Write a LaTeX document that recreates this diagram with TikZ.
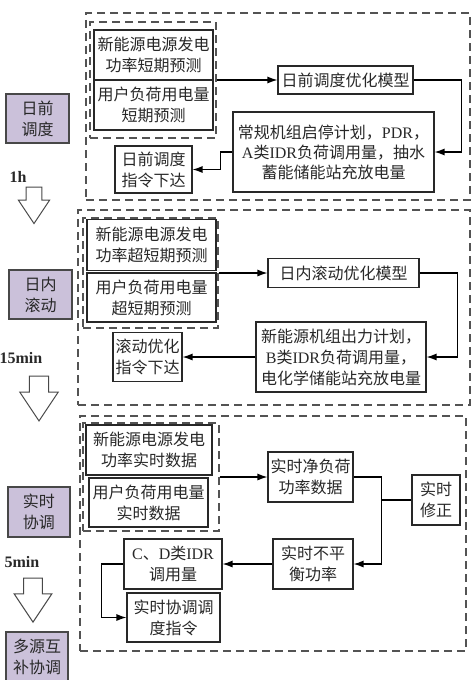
\documentclass[tikz,border=0pt]{standalone}
\usepackage{fontspec}
\setmainfont{Noto Sans CJK SC}
\newfontfamily\lat{Liberation Serif}
\usepackage{tikz}
\usetikzlibrary{arrows.meta,positioning,calc}
\definecolor{stage}{RGB}{203,193,218}
\definecolor{ink}{RGB}{40,40,40}

\begin{document}
\begin{tikzpicture}[x=1pt,y=-1pt,% pixel grid, y runs downwards
	every node/.style={
		align=center,		% so that "\\" breaks the line
		inner sep=2pt,
		text=ink,
		font=\fontsize{16}{21}\selectfont
		},
	box/.style={rectangle,draw=ink,line width=1.1pt,fill=white},
	stagebox/.style={rectangle,draw=ink!85,line width=1.4pt,fill=stage,minimum width=63pt,minimum height=49pt},
	frame/.style={rectangle,draw=ink!80,line width=1.3pt,dash pattern=on 8pt off 5pt,inner sep=0pt},
	line/.style={draw=black,line width=1.2pt},
	>={Latex[length=10pt,width=7pt]},
	hollow/.pic={\draw[ink!85,line width=1pt,fill=white] (-9,0) -- (9,0) -- (9,15) -- (18,15) -- (0,42) -- (-18,15) -- (-9,15) -- cycle;}
	]
\useasboundingbox (0,0) rectangle (474,680);

% day-ahead
\node[frame,minimum width=384pt,minimum height=187pt](O1) at (278,106.5){};
\node[frame,minimum width=126pt,minimum height=116pt](G1) at (153,80){};
\node[box,minimum width=119pt,minimum height=50pt](R1) at (153.5,55){新能源电源发电\\功率短期预测};
\node[box,minimum width=119pt,minimum height=50pt](R2) at (153.5,105){用户负荷用电量\\短期预测};
\node[stagebox](S1) at (37.5,118.5){日前\\调度};
\node(T1) at (18,177){\lat\bfseries 1h};
\pic[scale=0.87] at (34,187) {hollow};
\node[box,minimum width=77pt,minimum height=47pt](R3) at (153.5,169.5){日前调度\\指令下达};
\node[box,minimum width=135pt,minimum height=28pt](R4) at (345.5,80){日前调度优化模型};
\node[box,minimum width=201pt,minimum height=80pt,font=\fontsize{16}{20}\selectfont](R5) at (333.5,152){常规机组启停计划，{\lat PDR}，\\{\lat A}类{\lat IDR}负荷调用量，抽水\\蓄能储能站充放电量};
\draw[line,->] (G1.east) -- (R4.west);
\draw[line,->] (R4.east) -- ++(48,0) |- (R5.east);
\draw[line,->] (R5.west) -- ++(-12,0) |- (R3.east);

% intra-day
\node[frame,minimum width=392pt,minimum height=195pt](O2) at (274,307.5){};
\node[frame,minimum width=135pt,minimum height=110pt](G2) at (150.5,273){};
\node[box,minimum width=129pt,minimum height=51pt](R6) at (151.5,245){新能源电源发电\\功率超短期预测};
\node[box,minimum width=129pt,minimum height=49pt](R7) at (151.5,297.5){用户负荷用电量\\超短期预测};
\node[stagebox](S2) at (40.5,294.5){日内\\滚动};
\node(T2) at (21,358){\lat\bfseries 15min};
\pic[scale=1.07] at (39,376) {hollow};
\node[box,minimum width=69pt,minimum height=49pt](R8) at (147.5,357){滚动优化\\指令下达};
\node[box,minimum width=151pt,minimum height=29pt](R9) at (343.5,273){日内滚动优化模型};
\node[box,minimum width=170pt,minimum height=70pt](R10) at (341,357){新能源机组出力计划，\\{\lat B}类{\lat IDR}负荷调用量，\\电化学储能站充放电量};
\draw[line,->] (G2.east) -- (R9.west);
\draw[line,->] (R9.east) -- ++(38,0) |- (R10.east);
\draw[line,->] (R10.west) -- (R8.east);

% real-time
\node[frame,minimum width=386pt,minimum height=235pt](O3) at (273,533.5){};
\node[frame,minimum width=136pt,minimum height=108pt](G3) at (151,477){};
\node[box,minimum width=126pt,minimum height=50pt](R11) at (149,450){新能源电源发电\\功率实时数据};
\node[box,minimum width=119pt,minimum height=49pt](R12) at (148.5,502.5){用户负荷用电量\\实时数据};
\node[stagebox,minimum width=62pt,minimum height=50pt](S3) at (39,512){实时\\协调};
\node(T3) at (22,562){\lat\bfseries 5min};
\pic[scale=1.05] at (33,578) {hollow};
\node[stagebox,minimum width=62pt,minimum height=50pt](S4) at (37,657){多源互\\补协调};
\node[box,minimum width=85pt,minimum height=50pt](R13) at (310.5,477){实时净负荷\\功率数据};
\node[box,minimum width=48pt,minimum height=50pt](R14) at (436,500){实时\\修正};
\node[box,minimum width=80pt,minimum height=50pt](R15) at (313,564){实时不平\\衡功率};
\node[box,minimum width=98pt,minimum height=50pt](R16) at (173,564){{\lat C}、{\lat D}类{\lat IDR}\\调用量};
\node[box,minimum width=93pt,minimum height=49pt](R17) at (173.5,617.5){实时协调调\\度指令};
\draw[line,->] (G3.east) -- (R13.west);
\draw[line,->] (R13.east) -- ++(28,0) coordinate (J1) |- (R15.east);
\draw[line] (R14.west) -- (R14.west -| J1);
\draw[line,->] (R15.west) -- (R16.east);
\draw[line,->] (R16.west) -- ++(-22,0) |- (R17.west);
\end{tikzpicture}
\end{document}
